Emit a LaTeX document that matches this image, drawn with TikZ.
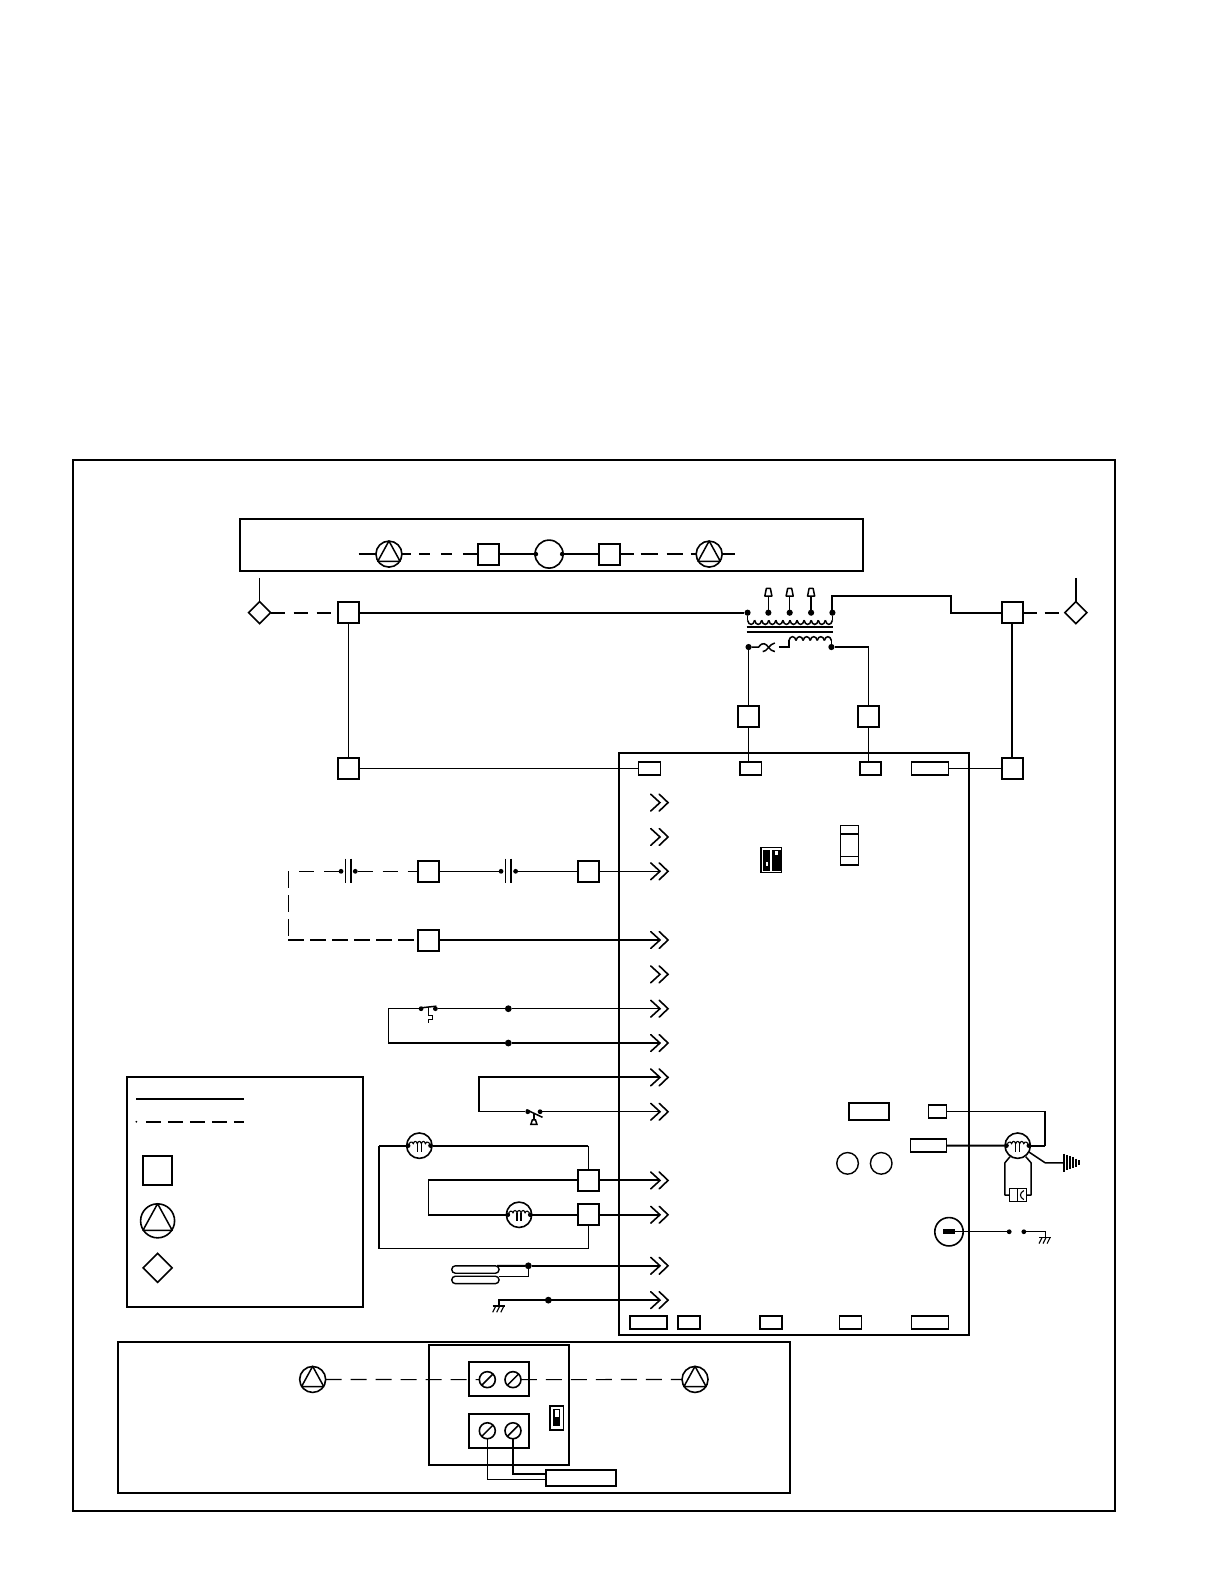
\documentclass[tikz,border=0pt]{standalone}
\usetikzlibrary{calc,shapes.geometric}
\tikzset{
  thk/.style={line width=2pt},
  thn/.style={line width=1.1pt},
  med/.style={line width=1.5pt},
  sq/.style={draw,line width=2pt,fill=white,minimum size=21pt,inner sep=0pt,outer sep=0pt},
  conn/.style={draw,line width=1.6pt,fill=white,minimum height=13pt,inner sep=0pt,outer sep=0pt},
  dia/.style={draw,line width=1.6pt,fill=white,diamond,minimum size=22pt,inner sep=0pt,outer sep=0pt,aspect=1},
  cir/.style={draw,circle,line width=1.6pt,inner sep=0pt,outer sep=0pt},
  dot/.style={circle,fill=black,inner sep=0pt,outer sep=0pt,minimum size=#1},
  dot/.default=6.2pt,
  chevron/.style={line width=1.6pt,line cap=round},
  board/.style={draw,line width=1.9pt},
  dl/.style={dash pattern=on 9pt off 8pt on 11pt off 11pt on 11pt off 11pt on 14pt off 50pt},
  dr/.style={dash pattern=on 14pt off 7pt on 17pt off 9pt on 16pt off 8pt on 10pt off 50pt},
  dt/.style={dash pattern=on 15pt off 10pt},
}
\newcommand\tricirc[3]{% name, position, radius
  \node[cir,minimum size=#3*2pt] (#1) at (#2) {};
  \draw[med,line join=round] ($(#1)+(0,-#3)$) -- ($(#1)+(-#3*0.85,#3*0.55)$) -- ($(#1)+(#3*0.85,#3*0.55)$) -- cycle;
}
\newcommand\motorsym[2]{% name, position
  \node[cir,minimum size=25.4pt] (#1) at (#2) {};
  \node[dot=4.5pt] (#1l) at ($(#1)+(-11,0)$) {};
  \node[dot=4.5pt] (#1r) at ($(#1)+(11,0)$) {};
  \draw[thn] (#1l) .. controls +(1,-3) and +(-1,-3) .. ($(#1)+(-6,-2)$)
    .. controls +(1,-3) and +(-1,-3) .. ($(#1)+(-2,-2)$)
    .. controls +(1,-3) and +(-1,-3) .. ($(#1)+(2,-2)$)
    .. controls +(1,-3) and +(-1,-3) .. ($(#1)+(6,-2)$)
    .. controls +(1,-3) and +(-1,-3) .. (#1r);
  \draw[med] ($(#1)+(-2,-2)$) -- ($(#1)+(-2,6)$) ($(#1)+(2,-2)$) -- ($(#1)+(2,6)$);
}
\newcommand\gndsym[1]{% named coordinate where the symbol hangs
  \draw[med] ($(#1)+(-6,0)$) -- ($(#1)+(6,0)$);
  \draw[thn] ($(#1)+(-3,0)$) -- ++(-3,6) ($(#1)+(1,0)$) -- ++(-3,6) ($(#1)+(5,0)$) -- ++(-3,6);
}
\newcommand\screwsym[2]{% name, position
  \node[cir,minimum size=16pt] (#1) at (#2) {};
  \draw[med] ($(#1)+(-5.5,5.5)$) -- ($(#1)+(5.5,-5.5)$);
}
\begin{document}
\begin{tikzpicture}[x=1.0102pt,y=-1.0102pt]
\useasboundingbox (0,0) rectangle (1211.64,1568);
% frames
\draw[board] (72,455) rectangle (1104,1496);
\draw[board] (237.5,514) rectangle (854.5,565);
\draw[board] (613,745) rectangle (959.5,1321.5);
\draw[board] (125.5,1066) rectangle (359.5,1294);
\draw[board] (117,1328) rectangle (782,1478);
\draw[board] (425,1331) rectangle (563.3,1450);

% top row
\coordinate (tl) at (355,548.5);
\coordinate (tr) at (728,548.5);
\tricirc{ta}{385,548.5}{13}
\tricirc{tb}{702,548.5}{13}
\node[sq] (tc) at (484,548.5) {};
\node[sq] (td) at (603,548.5) {};
\node[cir,minimum size=28pt] (te) at (543.5,548.5) {};
\node[dot=4.5pt] (tel) at (530.5,548.5) {};
\node[dot=4.5pt] (ter) at (556.5,548.5) {};
\draw[thk] (tl) -- (ta.west);
\draw[thk] (tb.east) -- (tr);
\draw[thk,dl] (ta.east) -- (tc.west);
\draw[thk,dr] (td.east) -- (tb.west);
\draw[thk] (tc) -- (tel);
\draw[thk] (ter) -- (td);

% supply
\node[dia] (dl1) at (257,606.5) {};
\node[dia] (dr1) at (1065,606.5) {};
\coordinate (dl1t) at (257,572);
\coordinate (dr1t) at (1065,572);
\draw[thn] (dl1t) -- (dl1.north);
\draw[thk] (dr1t) -- (dr1.north);
\node[sq] (s1) at (345,606.5) {};
\node[sq] (s2) at (345,760.5) {};
\node[sq] (s3) at (1002,606.5) {};
\node[sq] (s4) at (1002,760.5) {};
\node[sq] (s5) at (741,709.5) {};
\node[sq] (s6) at (860,709.5) {};
\draw[thk,dash pattern=on 14pt off 9pt] (dl1) -- (s1);
\draw[thk,dash pattern=on 14pt off 8pt] (s3) -- (dr1);
\draw[thn] (s1) -- (s2);
\draw[thk] (s3) -- (s4);

% transformer
\node[dot] (p1) at (740,606.5) {};
\node[dot] (p2) at (760.6,606.5) {};
\node[dot] (p3) at (781.7,606.5) {};
\node[dot] (p4) at (802.9,606.5) {};
\node[dot] (p5) at (824,606.5) {};
\draw[thk] (s1) -- (p1);
\draw[thk] (p5) -- (824,590) -- (941,590) -- (941,606.5) -- (s3);
\foreach \k in {0,...,11}
  \draw[med] ({740+7*\k},614) .. controls +(1,5.5) and +(-1,5.5) .. ({747+7*\k},614);
\draw[med] (p1) -- (740,614);
\draw[med] (p5) -- (824,614);
\draw[thk] (739,621) -- (825,621);
\draw[thk] (739,626) -- (825,626);
\foreach \n/\x in {p2/760.6,p3/781.7,p4/802.9}{
  \draw[med] (\n) -- (\x,590);
  \draw[med,line join=round] (\x-3.5,590) -- (\x-2,582.5) -- (\x+2,582.5) -- (\x+3.5,590) -- cycle;
}
\node[dot] (q1) at (741,640.5) {};
\node[dot] (q2) at (823,640.5) {};
\draw[med] (q1) -- (751,640.5) .. controls (755,635) and (758,637) .. (761,641) .. controls (762.5,643) and (764,644.5) .. (767,645);
\draw[med] (755,645) .. controls (759,645.5) and (762,637) .. (767,636.5);
\draw[med] (771,640.5) -- (781,640.5) -- (781,634);
\foreach \k in {0,...,5}
  \draw[med] ({781+7*\k},634) .. controls +(1,-5) and +(-1,-5) .. ({788+7*\k},634);
\draw[med] (823,634) -- (q2);
\draw[thn] (q1) -- (s5);
\draw[thn] (q2) -- (860,640.5) -- (s6);

% board connectors
\node[conn,minimum width=22pt] (b1) at (643,760.5) {};
\node[conn,minimum width=21.5pt] (b2) at (743,760.5) {};
\node[conn,minimum width=21pt] (b3) at (861.5,760.5) {};
\node[conn,minimum width=37pt] (b4) at (920.5,760.5) {};
\node[conn,minimum width=37pt] (b5) at (642,1309) {};
\node[conn,minimum width=22pt] (b6) at (682,1309) {};
\node[conn,minimum width=22pt] (b7) at (763,1309) {};
\node[conn,minimum width=22pt] (b8) at (842,1309) {};
\node[conn,minimum width=37pt] (b9) at (920.5,1309) {};
\node[conn,minimum width=40pt,minimum height=17pt] (b10) at (860.5,1100) {};
\node[conn,minimum width=18pt] (b11) at (928,1100) {};
\node[conn,minimum width=36pt] (b12) at (919,1134) {};
\node[cir,line width=1.4pt,minimum size=21.6pt] (c1) at (839,1151.6) {};
\node[cir,line width=1.4pt,minimum size=21.6pt] (c2) at (872.3,1151.6) {};
\draw[thn] (s2) -- (b1);
\draw[thn] (b4) -- (s4);
\draw[thn] (s5) -- (s5 |- b2.north);
\draw[thn] (s6) -- (s6 |- b3.north);

% DIP switch and fuse on board
\draw[line width=1.5pt,fill=white] (753.5,839) rectangle (773.5,863.5);
\fill (755.5,841) rectangle (761.8,862.5);
\fill (764.5,841) rectangle (773.5,862.5);
\fill[white] (758,853) rectangle (760.5,857);
\fill[white] (767,842) rectangle (770,846);
\draw[med] (832,817) rectangle (850,856.5);
\draw[med] (832,825.6) -- (850,825.6);
\draw[med] (832,848) -- (850,848);

% chevrons
\foreach \n/\y in {ca/794.5,cb/828.5,cc/862.5,cd/930.5,ce/964.5,cf/998.5,cg/1032.5,ch/1066.5,ci/1100.5,cj/1168.5,ck/1202.5,cl/1253,cm/1287}{
  \coordinate (\n) at (652.5,\y);
  \draw[chevron] (644.2,\y-8.3) -- (653.3,\y) -- (644.2,\y+8.3);
  \draw[chevron] (652.6,\y-8.3) -- (661.3,\y) -- (652.6,\y+8.3);
}

% capacitors line
\node[dot=4.8pt] (k1) at (337.6,862.5) {};
\node[dot=4.8pt] (k2) at (351.7,862.5) {};
\node[dot=4.8pt] (k3) at (496,862.5) {};
\node[dot=4.8pt] (k4) at (510.4,862.5) {};
\draw[thn] (342.2,850) -- (342.2,874);
\draw[thk] (347.8,850) -- (347.8,874);
\draw[thn] (500.6,850) -- (500.6,874);
\draw[thk] (505.9,850) -- (505.9,874);
\node[sq] (s7) at (424,862.5) {};
\node[sq] (s8) at (582.5,862.5) {};
\node[sq] (s9) at (424,930.5) {};
\coordinate (v1) at (285.4,862.5);
\coordinate (v2) at (285.4,930.5);
\draw[thn,dt] (k2) -- (s7);
\draw[thn,dt] (k1) -- (v1);
\draw[thn,dash pattern=on 17pt off 7pt] (v1) -- (v2);
\draw[thk,dash pattern=on 16pt off 6pt] (v2) -- (s9);
\draw[thn] (s7) -- (k3);
\draw[thn] (k4) -- (s8);
\draw[thn] (s8) -- (cc);
\draw[thk] (s9) -- (cd);

% limit switch
\node[dot=4.8pt] (w1) at (416.8,998.5) {};
\node[dot=4.8pt] (w2) at (431,998.5) {};
\node[dot=6.8pt] (w3) at (503.2,998.5) {};
\node[dot=6.8pt] (w4) at (503.2,1032.5) {};
\coordinate (w5) at (384.4,998.5);
\coordinate (w6) at (384.4,1032.5);
\draw[thn] (w1) -- (w5) -- (w6);
\draw[thk] (w6) -- (w4);
\draw[thn] (w2) -- (w3);
\draw[thn] (w3) -- (cf);
\draw[thk] (w4) -- (cg);
\draw[med] (418,997.5) -- (432,996);
\draw[thn] (424,997) -- (424,1004.8) -- (428.3,1004.8) -- (428.3,1009) -- (424,1009) -- (424,1013);

% pressure switch
\node[dot=4.8pt] (x1) at (522.4,1100.5) {};
\node[dot=4.8pt] (x2) at (534.6,1100.5) {};
\coordinate (x3) at (474.2,1066.5);
\coordinate (x4) at (474.2,1100.5);
\draw[thk,line join=miter] (ch) -- (x3) -- (x4);
\draw[thn] (x4) -- (x1);
\draw[thn] (x2) -- (ci);
\draw[med] (521,1098.5) -- (537,1106);
\draw[med] (528.5,1103) -- (528.5,1109);
\draw[med,fill=white] (525.5,1113) -- (527,1108.5) -- (530,1108.5) -- (531.5,1113) -- cycle;

% motors left
\motorsym{m1}{415.1,1134.1}
\motorsym{m2}{513.8,1202.5}
\node[sq] (s10) at (582.3,1168.5) {};
\node[sq] (s11) at (582.3,1202.5) {};
\coordinate (y1) at (375.2,1134.1);
\coordinate (y2) at (375.2,1235.7);
\coordinate (y3) at (582.3,1134.1);
\coordinate (y4) at (582.3,1235.7);
\coordinate (y5) at (424,1168.5);
\coordinate (y6) at (424,1202.5);
\draw[thk] (y1) -- (m1l);
\draw[thk] (m1r) -- (y3);
\draw[thn] (y3) -- (s10);
\draw[thn] (y1) -- (y2) -- (y4) -- (s11);
\draw[thk] (s10) -- (y5);
\draw[thn] (y5) -- (y6);
\draw[thk] (y6) -- (m2l);
\draw[thk] (m2r) -- (s11);
\draw[thk] (s10) -- (cj);
\draw[thk] (s11) -- (ck);

% heater and ground
\node[draw,line width=1.4pt,rounded corners=3.6pt,minimum width=47.3pt,minimum height=7.4pt,inner sep=0pt,outer sep=0pt] (h1) at (470.6,1256.7) {};
\node[draw,line width=1.4pt,rounded corners=3.6pt,minimum width=47.3pt,minimum height=7.4pt,inner sep=0pt,outer sep=0pt] (h2) at (470.6,1267) {};
\node[dot=6.8pt] (h3) at (523,1253) {};
\draw[thk] (h1.north east) ++(-2,0) -- (h3);
\draw[thk] (h3) -- (cl);
\draw[thn] (h3) -- (523,1263.7) -- (494.3,1263.7);
\node[dot=6.8pt] (g1) at (542.8,1287) {};
\coordinate (g0) at (493.7,1287);
\coordinate (g2) at (493.7,1293);
\draw[thk] (cm) -- (g0) -- (g2);
\gndsym{g2}

% right motor
\motorsym{m3}{1007.4,1134.1}
\coordinate (z1) at (1034.5,1134.1);
\coordinate (z2) at (1034.5,1100);
\draw[thn] (b11) -- (z2);
\draw[med] (z2) -- (z1);
\draw[thk] (z1) -- (m3r);
\draw[thk] (b12) -- (m3l);
\draw[med,line join=round] (999.8,1145) -- (994.8,1151) -- (994.8,1183) -- (1020.6,1183) -- (1020.6,1151) -- (1015.4,1145);
\draw[med,fill=white] (999.2,1176.7) rectangle (1016.3,1189.2);
\draw[thn] (1007,1176.7) -- (1007,1189.2);
\draw[thn] (1013.5,1178.5) .. controls (1009,1181) and (1009,1185) .. (1013.5,1187.5);
\coordinate (z3) at (1018,1140);
\coordinate (z4) at (1034.5,1151);
\coordinate (z5) at (1053.3,1151);
\draw[med,line join=round] (z3) -- (z4) -- (z5);
\draw[med] (1053.3,1142) -- (1053.3,1160);
\draw[med] (1056.3,1143.5) -- (1056.3,1158.5);
\draw[med] (1059.3,1144.5) -- (1059.3,1157.5);
\draw[med] (1062.3,1145.5) -- (1062.3,1156.5);
\draw[med] (1065.3,1147) -- (1065.3,1155);
\draw[med] (1068.3,1148.5) -- (1068.3,1153.5);

% rotary / lamp
\node[cir,minimum size=28.4pt] (r1) at (939.4,1219.3) {};
\fill (933.8,1216.8) rectangle (945.5,1221.6);
\node[dot=4.8pt] (r2) at (999,1219.3) {};
\node[dot=4.8pt] (r3) at (1013.5,1219.3) {};
\coordinate (r4) at (1034.5,1219.3);
\coordinate (r5) at (1034.5,1225);
\draw[thn] (945,1219.3) -- (r2);
\draw[thn] (r3) -- (r4) -- (r5);
\gndsym{r5}

% legend
\coordinate (l1) at (135,1088);
\coordinate (l2) at (242,1088);
\coordinate (l3) at (144.5,1110.5);
\coordinate (l4) at (242,1110.5);
\draw[thk] (l1) -- (l2);
\node[dot=2pt] (l5) at (135,1110.5) {};
\draw[thk,dash pattern=on 15pt off 7pt] (l3) -- (l4);
\node[sq,minimum size=29.5pt] (l6) at (156,1158.5) {};
\tricirc{l7}{156,1208.5}{17}
\node[dia,minimum size=29pt] (l8) at (156,1255) {};

% bottom box
\tricirc{u1}{309.5,1365.5}{13}
\tricirc{u2}{688,1365.5}{13}
\draw[line width=1.9pt] (464.3,1348.3) rectangle (523.7,1381.9);
\draw[line width=1.9pt] (464.3,1399.7) rectangle (523.7,1433);
\screwsym{e1}{482.4,1365.7}
\screwsym{e2}{507.8,1365.7}
\screwsym{e3}{482.4,1416.3}
\screwsym{e4}{507.8,1416.3}
\draw[thn,dash pattern=on 16pt off 9pt] (u1) -- (e1);
\draw[thn,dash pattern=on 16pt off 9pt] (e2) -- (u2);
\node[draw,line width=1.9pt,fill=white,minimum width=69.3pt,minimum height=15.8pt,inner sep=0pt,outer sep=0pt] (f1) at (575.2,1463) {};
\coordinate (f2) at (482.4,1464.5);
\coordinate (f3) at (507.8,1459.5);
\draw[thn] (e3.south) -- (f2) -- (f1.west |- f2);
\draw[thk] (e4.south) -- (f3) -- (f1.west |- f3);
\draw[line width=1.5pt] (544.5,1391.8) rectangle (557.6,1415.6);
\fill (547.5,1395) rectangle (554.5,1412);
\fill[white] (549,1396) rectangle (553,1402.5);
\end{tikzpicture}
\end{document}
